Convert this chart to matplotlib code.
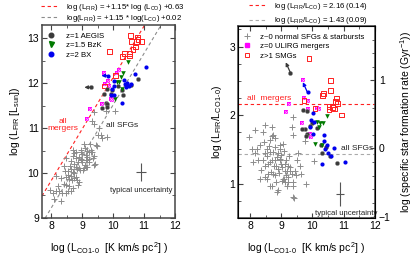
import matplotlib
matplotlib.use('Agg')
import matplotlib.pyplot as plt
from matplotlib.lines import Line2D
import numpy as np

plt.rcParams['font.family'] = ['Liberation Sans', 'DejaVu Sans']
plt.rcParams['mathtext.fontset'] = 'custom'
plt.rcParams['mathtext.rm'] = 'Liberation Sans'
plt.rcParams['mathtext.it'] = 'Liberation Sans'

# data: log L'CO (x) and log(LFIR/L'CO) (r); LFIR = x + r
gray_x = [8.10, 8.42, 8.47, 8.63, 8.79, 8.84, 8.95, 9.00, 8.89, 9.11, 9.21, 9.27, 9.16,
          8.68, 8.79, 8.58, 8.31, 8.47, 8.63, 9.05, 9.11, 9.21, 9.37, 9.48, 9.64, 9.80,
          8.89, 9.37, 10.05, 8.48, 8.16, 7.95, 8.74, 8.80, 8.43, 8.32, 8.64, 8.16, 8.48,
          8.74, 8.96, 9.06, 9.38, 9.33, 9.38, 8.69, 8.53, 8.80, 8.69, 8.05, 8.58, 8.69,
          8.85, 8.96, 9.01, 9.12, 9.17, 9.10, 9.03, 9.28, 9.33, 9.44, 9.22, 8.82, 8.86,
          8.69, 8.53, 8.74, 9.36, 9.17, 9.42, 8.21, 8.64, 8.96, 9.77, 9.55, 9.60, 9.50,
          8.90, 8.75, 9.00, 8.55, 8.35, 8.25, 9.25, 8.92, 9.08, 8.40, 9.15, 8.60]
gray_r = [1.31, 1.34, 1.26, 1.31, 1.34, 1.26, 1.36, 1.29, 1.22, 1.19, 1.26, 1.19, 1.12,
          1.17, 1.12, 1.14, 1.07, 1.09, 0.97, 1.07, 1.02, 1.03, 1.02, 1.12, 1.14, 1.00,
          0.90, 0.80, 1.33, 1.85, 1.78, 1.68, 1.71, 1.66, 1.61, 1.56, 1.63, 1.44, 1.44,
          1.46, 1.51, 1.58, 1.71, 1.83, 1.97, 1.83, 1.51, 1.53, 1.69, 1.50, 1.29, 1.34,
          1.39, 1.34, 1.24, 1.29, 1.19, 1.07, 1.04, 1.24, 1.14, 1.19, 1.09, 1.02, 0.88,
          0.97, 1.07, 1.14, 0.97, 0.97, 0.79, 1.51, 1.46, 1.56, 1.62, 1.45, 1.25, 1.35,
          1.45, 1.25, 1.42, 1.40, 1.20, 1.35, 1.40, 1.15, 1.47, 1.75, 1.35, 1.55]

ulirg_x = [9.71, 9.26, 9.15, 9.73, 9.84, 9.86, 10.13, 10.20, 9.65, 9.92, 9.95]
ulirg_r = [2.51, 2.16, 2.05, 2.25, 2.20, 2.09, 2.10, 2.09, 1.88, 1.73, 1.68]

smg_x = [9.89, 10.57, 10.58, 10.36, 10.31, 10.78, 10.74, 9.73, 10.80, 10.53, 10.64,
         10.53, 10.72, 10.93, 10.08]
smg_r = [2.82, 2.50, 2.36, 2.31, 2.28, 2.25, 2.20, 2.21, 2.17, 2.13, 2.11, 2.08, 2.09,
         2.00, 2.10]

aegis_x = [9.70, 9.81, 9.97, 9.92, 9.76, 9.81, 9.65, 10.27, 10.43, 10.31, 10.56, 10.80,
           10.14, 9.79, 9.29]
aegis_r = [2.07, 2.06, 1.88, 1.84, 1.79, 1.73, 1.80, 1.57, 1.53, 1.44, 1.40, 1.30, 1.81,
           1.69, 2.62]
aegis_lim = [False] * 14 + [True]

bzk_x = [10.48, 10.13, 10.24, 10.33, 10.20, 10.07, 10.30]
bzk_r = [1.99, 1.90, 1.89, 1.89, 1.83, 1.58, 1.57]

bx_x = [9.84, 10.02, 9.95, 9.92, 10.04, 10.02, 10.36, 10.37, 10.45, 10.69, 10.40, 10.50,
        10.58, 11.06, 10.29]
bx_r = [2.33, 2.03, 1.93, 1.82, 1.90, 1.73, 1.71, 1.62, 1.56, 1.52, 1.51, 1.44, 1.40,
        1.31, 1.28]
bx_lim = [True] + [False] * 14

slope = 1.15
icpt_merg, icpt_sfg = 0.63, 0.02
ratio_merg, ratio_sfg = 2.16, 1.43
ssfr_offset = 1.52

RED = '#ff2020'
GRAY = '#8c8c8c'
DARK = '#3a3a3a'
BLUE = '#0000ee'
GREEN = '#007a00'
MAG = '#ff00ff'

fig = plt.figure(figsize=(4.15, 2.6), dpi=100)
ax1 = fig.add_axes([0.101, 0.162, 0.321, 0.742])
ax2 = fig.add_axes([0.573, 0.162, 0.330, 0.738])

fs_tick = 7.5
fs_small = 5.6


def style(ax, right_ticks=True):
    for s in ax.spines.values():
        s.set_linewidth(1.1)
        s.set_color('#444444')
    ax.tick_params(which='both', direction='in', top=True, right=right_ticks,
                   labelsize=fs_tick, pad=2, color='#444444')
    ax.tick_params(which='major', length=3.5)
    ax.tick_params(which='minor', length=2)


def draw(ax, yfun):
    ax.scatter(gray_x, yfun(gray_x, gray_r), marker='+', s=16, color=GRAY, lw=0.7, zorder=2)
    ax.scatter(ulirg_x, yfun(ulirg_x, ulirg_r), marker='s', s=9, color=MAG, lw=0, zorder=3)
    ax.scatter(ulirg_x, yfun(ulirg_x, ulirg_r), marker='x', s=5, color='#ffb0ff', lw=0.4, zorder=3)
    ax.scatter(smg_x, yfun(smg_x, smg_r), marker='s', s=12, facecolor='none', edgecolor=RED,
               lw=0.7, zorder=3)
    ax.scatter(aegis_x, yfun(aegis_x, aegis_r), marker='o', s=9, color=DARK,
               edgecolor='#888888', lw=0.3, zorder=4)
    ax.scatter(bzk_x, yfun(bzk_x, bzk_r), marker='v', s=11, color=GREEN, lw=0, zorder=4)
    ax.scatter(bx_x, yfun(bx_x, bx_r), marker='o', s=9, color=BLUE, lw=0, zorder=4)


# ---------------- left panel ----------------
def lfir(x, r):
    return np.array(x) + np.array(r)


draw(ax1, lfir)
for xs, rs, lims, col in [(aegis_x, aegis_r, aegis_lim, DARK), (bx_x, bx_r, bx_lim, BLUE)]:
    for x, r, lim in zip(xs, rs, lims):
        if lim:
            ax1.annotate('', xy=(x - 0.22, x + r), xytext=(x, x + r),
                         arrowprops=dict(arrowstyle='-|>', color=col, lw=0.9, mutation_scale=5,
                                         shrinkA=0, shrinkB=0), zorder=5)

xx = np.linspace(7.7, 12, 50)
ax1.plot(xx, slope * xx + icpt_merg, ls=(0, (3, 2.5)), color=RED, lw=0.8, zorder=1)
ax1.plot(xx, slope * xx + icpt_sfg, ls=(0, (3, 2.5)), color=GRAY, lw=0.8, zorder=1)

ax1.errorbar([10.9], [10.03], xerr=[0.16], yerr=[0.2], color='#555555', lw=0.8, capsize=0)
ax1.text(9.9, 9.62, 'typical uncertainty', fontsize=fs_small, va='center', color='#222222')
ax1.text(8.38, 11.07, 'all\nmergers', fontsize=fs_small + 0.4, color=RED, ha='center',
         va='center', linespacing=1.0)
ax1.text(9.77, 11.05, 'all SFGs', fontsize=fs_small + 0.4, color='#222222', va='center')

ax1.set_xlim(7.7, 12)
ax1.set_ylim(9, 13.3)
ax1.set_xticks([8, 9, 10, 11, 12])
ax1.set_yticks([9, 10, 11, 12, 13])
ax1.set_xticks(np.arange(8, 12.01, 0.5), minor=True)
ax1.set_yticks(np.arange(9, 13.31, 0.5), minor=True)
style(ax1)
ax1.set_xlabel('log (L$_{\\rm CO\\,1\\text{-}0}$  [K km/s pc$^2$] )', fontsize=7.5, labelpad=7)
ax1.set_ylabel('log (L$_{\\rm FIR}$ [L$_{\\rm sun}$])', fontsize=7.5, labelpad=4)

h = [Line2D([], [], marker='o', ls='none', color=DARK, ms=3.3),
     Line2D([], [], marker='v', ls='none', color=GREEN, ms=3.6),
     Line2D([], [], marker='o', ls='none', color=BLUE, ms=3.3)]
ax1.legend(h, ['z=1 AEGIS', 'z=1.5 BzK', 'z=2 BX'], loc='upper left', frameon=False,
           fontsize=fs_small, handlelength=1.0, handletextpad=1.4, labelspacing=0.25,
           borderaxespad=0.3, bbox_to_anchor=(0.0, 0.99))

ht = [Line2D([], [], ls=(0, (3, 2.5)), color=RED, lw=0.8),
      Line2D([], [], ls=(0, (3, 2.5)), color=GRAY, lw=0.8)]
fig.legend(ht, ['log (L$_{\\rm FIR}$) = +1.15* log (L$_{\\rm CO}$) +0.63',
                'log(L$_{\\rm FIR}$) = +1.15 * log(L$_{\\rm CO}$) +0.02'],
           loc='upper left', bbox_to_anchor=(0.082, 1.02), frameon=False, fontsize=fs_small,
           handlelength=2.2, handletextpad=1.0, labelspacing=0.05)

# ---------------- right panel ----------------
def ratio(x, r):
    return np.array(r)


draw(ax2, ratio)
for xs, rs, lims, col in [(aegis_x, aegis_r, aegis_lim, DARK), (bx_x, bx_r, bx_lim, BLUE)]:
    for x, r, lim in zip(xs, rs, lims):
        if lim:
            ax2.annotate('', xy=(x - 0.15, r + 0.15), xytext=(x, r),
                         arrowprops=dict(arrowstyle='-|>', color=col, lw=0.9, mutation_scale=5,
                                         shrinkA=0, shrinkB=0), zorder=5)

ax2.axhline(ratio_merg, ls=(0, (3, 2.5)), color=RED, lw=0.8, zorder=1)
ax2.axhline(ratio_sfg, ls=(0, (3, 2.5)), color='#aaaaaa', lw=0.8, zorder=1)
ax2.errorbar([10.88], [0.85], xerr=[0.12], yerr=[0.17], color='#555555', lw=0.8, capsize=0)
ax2.text(10.08, 0.56, 'typical uncertainty', fontsize=fs_small, va='center', color='#222222')
ax2.text(7.89, 2.24, 'all  mergers', fontsize=fs_small + 0.4, color=RED, va='center')
ax2.text(10.93, 1.51, 'all SFGs', fontsize=fs_small + 0.4, color='#222222', va='center')

ax2.set_xlim(7.6, 12)
ax2.set_ylim(0.5, 3.3)
ax2.set_xticks([8, 9, 10, 11, 12])
ax2.set_yticks([1, 2, 3])
ax2.set_xticks(np.arange(8, 12.01, 0.5), minor=True)
ax2.set_yticks(np.arange(0.5, 3.31, 0.25), minor=True)
style(ax2, right_ticks=False)
ax2.set_xlabel('log (L$_{\\rm CO\\,1\\text{-}0}$  [K km/s pc$^2$] )', fontsize=7.5, labelpad=7)
ax2.set_ylabel('log (L$_{\\rm FIR}$/L$_{\\rm CO\\,1\\text{-}0}$)', fontsize=7.5, labelpad=4)

ax3 = ax2.twinx()
ax3.set_ylim(0.5 - ssfr_offset, 3.3 - ssfr_offset)
ax3.set_yticks([-1, 0, 1])
ax3.set_yticks(np.arange(-1, 1.81, 0.2), minor=True)
ax3.tick_params(which='both', direction='in', labelsize=fs_tick, pad=3, color='#444444')
ax3.tick_params(which='major', length=3.5)
ax3.tick_params(which='minor', length=2)
ax3.set_ylabel('log (specific star formation rate (Gyr$^{-1}$))', fontsize=7.5, labelpad=5)

h2 = [Line2D([], [], marker='+', ls='none', color=GRAY, ms=4, mew=0.7),
      Line2D([], [], marker='s', ls='none', color=MAG, ms=3.1),
      Line2D([], [], marker='s', ls='none', mfc='none', mec=RED, ms=3.3, mew=0.7)]
ax2.legend(h2, ['z~0 normal SFGs & starbursts', 'z=0 ULIRG mergers', 'z>1 SMGs'],
           loc='upper left', frameon=False, fontsize=fs_small, handlelength=1.0,
           handletextpad=1.2, labelspacing=0.25, borderaxespad=0.3, bbox_to_anchor=(0.0, 0.99))

ht2 = [Line2D([], [], ls=(0, (3, 2.5)), color=RED, lw=0.8),
       Line2D([], [], ls=(0, (3, 2.5)), color='#aaaaaa', lw=0.8)]
fig.legend(ht2, ['log (L$_{\\rm FIR}$/L$_{\\rm CO}$) = 2.16 (0.14)',
                 'log (L$_{\\rm FIR}$/L$_{\\rm CO}$) = 1.43 (0.09)'],
           loc='upper left', bbox_to_anchor=(0.583, 1.025), frameon=False, fontsize=fs_small,
           handlelength=2.2, handletextpad=1.0, labelspacing=0.5)

fig.savefig('out.png', dpi=100)
